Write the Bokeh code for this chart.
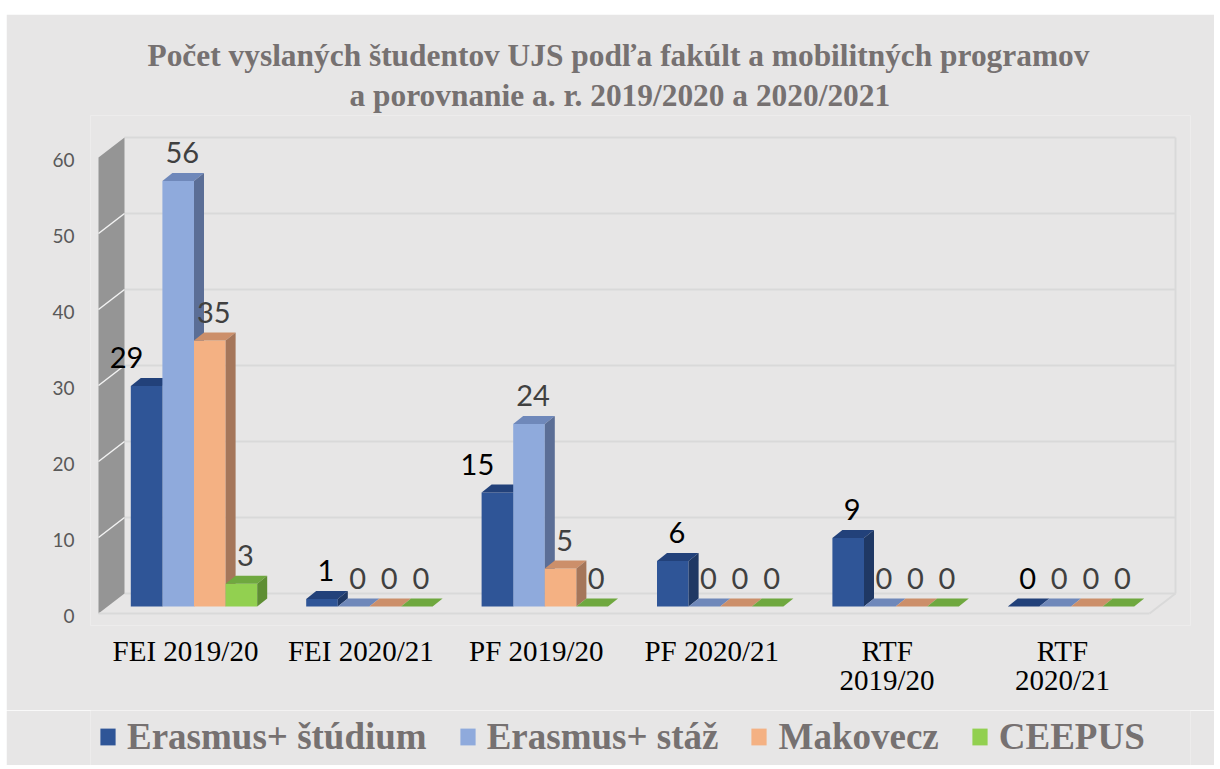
from bokeh.plotting import figure
from bokeh.layouts import column
from bokeh.models import (Range1d, LinearAxis, FixedTicker, Title, Legend,
                          LegendItem, ColumnDataSource)
from bokeh.core.properties import value
from bokeh.embed import file_html
from bokeh.resources import INLINE

# ---------------- data ----------------
tick_labels = ["FEI 2019/20", "FEI 2020/21", "PF 2019/20", "PF 2020/21",
               "RTF\n2019/20", "RTF\n2020/21"]
series_names = ["Erasmus+ štúdium", "Erasmus+ stáž", "Makovecz", "CEEPUS"]
erasmus_studium = [29, 1, 15, 6, 9, 0]
erasmus_staz = [56, 0, 24, 0, 0, 0]
makovecz = [35, 0, 5, 0, 0, 0]
ceepus = [3, 0, 0, 0, 0, 0]
y_ticks = [0, 10, 20, 30, 40, 50, 60]
title_line1 = "Počet vyslaných študentov UJS podľa fakúlt a mobilitných programov"
title_line2 = "a porovnanie a. r. 2019/2020 a 2020/2021"

series_values = [erasmus_studium, erasmus_staz, makovecz, ceepus]

# ---------------- style ----------------
BG = "#E7E6E6"
GRID = "#D9D9D9"
TITLE_C = "#767171"
front_c = ["#2F5597", "#8FAADC", "#F4B183", "#92D050"]
top_c = ["#22417A", "#6F88BA", "#CC8F6A", "#6FA83F"]
side_c = ["#1F3864", "#5B6E96", "#A5765A", "#5E8E33"]
label_c = ["#000000", "#404040", "#404040", "#404040"]

OX, OY = 6, 14          # page position of the chart box
W = 1208
H_MAIN = 696
H_LEG = 55

PXX = 175.4   # pixels per category
PXY = 7.6     # pixels per unit value


def px_x(v):
    return v / PXX


def px_y(v):
    return v / PXY


# geometry (page pixels converted to data units; 0-category front centre at x=185, value 0 at y=606)
bar_w = px_x(31.6)
shift = px_x(8.5)
bdx, bdy = px_x(10), px_y(8)
wall_dx, wall_dy = px_x(26), px_y(20)
floor_front = -px_y(7)
wall_left = px_x(98 - 185)
wall_right = px_x(1175 - 185)
label_gap = px_y(28.5)

FL, FR, FT, FB = 90, 1190, 115, 625   # frame edges on the page
x_start, x_end = px_x(FL - 185), px_x(FR - 185)
y_start, y_end = -px_y(FB - 606), px_y(606 - FT)

p = figure(width=W, height=H_MAIN, output_backend="svg", toolbar_location=None,
           x_range=Range1d(x_start, x_end), y_range=Range1d(y_start, y_end),
           x_axis_location=None, y_axis_location=None, title=None,
           min_border_left=FL - OX, min_border_right=W - (FR - OX),
           min_border_top=FT - OY, min_border_bottom=H_MAIN - (FB - OY),
           background_fill_color=BG, border_fill_color=BG, outline_line_color=None)
for g in list(p.xgrid) + list(p.ygrid):
    g.visible = False

# ---------------- walls ----------------
top_v = y_ticks[-1]
back_y = [t + floor_front + wall_dy for t in y_ticks]
p.segment(x0=[wall_left + wall_dx] * len(back_y), x1=[wall_right] * len(back_y),
          y0=back_y, y1=back_y, line_color=GRID, line_width=2)
p.segment(x0=[wall_right], x1=[wall_right], y0=[floor_front + wall_dy],
          y1=[top_v + floor_front + wall_dy], line_color=GRID, line_width=2)
p.patch(x=[wall_left, wall_left, wall_left + wall_dx, wall_left + wall_dx],
        y=[floor_front, top_v + floor_front, top_v + floor_front + wall_dy,
           floor_front + wall_dy],
        fill_color="#959595", line_color=None)
mid = y_ticks[1:-1]
p.segment(x0=[wall_left] * len(mid), x1=[wall_left + wall_dx] * len(mid),
          y0=[t + floor_front for t in mid],
          y1=[t + floor_front + wall_dy for t in mid],
          line_color="#F2F2F2", line_width=1.5)
p.segment(x0=[wall_left, wall_right - wall_dx], x1=[wall_right - wall_dx, wall_right],
          y0=[floor_front, floor_front], y1=[floor_front, floor_front + wall_dy],
          line_color=GRID, line_width=2)

# ---------------- bars ----------------
n_groups = len(tick_labels)
for j, vals in enumerate(series_values):
    lefts = [i + shift - 2 * bar_w + j * bar_w for i in range(n_groups)]
    rights = [l + bar_w for l in lefts]
    src = ColumnDataSource(dict(left=lefts, right=rights, top=vals,
                                bottom=[0] * n_groups))
    p.quad(left="left", right="right", bottom="bottom", top="top",
           source=src, fill_color=front_c[j], line_color=None)
    p.patches(xs=[[l, rr, rr + bdx, l + bdx] for l, rr in zip(lefts, rights)],
              ys=[[v, v, v + bdy, v + bdy] for v in vals],
              fill_color=top_c[j], line_color=None)
    p.patches(xs=[[rr, rr + bdx, rr + bdx, rr] for rr in rights],
              ys=[[0, bdy, v + bdy, v] for v in vals],
              fill_color=side_c[j], line_color=None)
    # label nudged left when the next bar in the group is taller
    nxt = series_values[j + 1] if j + 1 < len(series_values) else [0] * n_groups
    xs = [(l + rr) / 2 + (px_x(-20) if nv > v else px_x(4))
          for l, rr, v, nv in zip(lefts, rights, vals, nxt)]
    lsrc = ColumnDataSource(dict(x=xs, y=[v + label_gap for v in vals],
                                 t=[str(v) for v in vals]))
    p.text(x="x", y="y", text="t", source=lsrc, text_font=value("Lato"),
           text_font_size=value("29px"), text_color=label_c[j],
           text_align="center", text_baseline="middle")

# ---------------- axes ----------------
off = px_y(615 - 606)
p.extra_y_ranges = {"wall": Range1d(y_start + off, y_end + off)}
yax = LinearAxis(y_range_name="wall", ticker=FixedTicker(ticks=y_ticks),
                 axis_line_color=None, major_tick_line_color=None,
                 minor_tick_line_color=None, major_tick_out=0, major_tick_in=0,
                 major_label_standoff=16, major_label_text_font="Lato",
                 major_label_text_font_size="19px", major_label_text_color="#595959")
p.add_layout(yax, "left")

xax = LinearAxis(ticker=FixedTicker(ticks=list(range(n_groups))),
                 major_label_overrides={i: t for i, t in enumerate(tick_labels)},
                 axis_line_color=None, major_tick_line_color=None,
                 minor_tick_line_color=None, major_tick_out=0, major_tick_in=0,
                 major_label_standoff=9, major_label_text_font="Liberation Serif",
                 major_label_text_font_size="29px", major_label_text_color="#000000",
                 major_label_text_line_height=0.92)
p.add_layout(xax, "below")

# ---------------- title ----------------
p.add_layout(Title(text=title_line2, align="left", offset=259, standoff=5,
                   text_font="Liberation Serif", text_font_style="bold",
                   text_font_size="31.4px", text_color=TITLE_C), "above")
p.add_layout(Title(text=title_line1, align="left", offset=57, standoff=2,
                   text_font="Liberation Serif", text_font_style="bold",
                   text_font_size="31.4px", text_color=TITLE_C), "above")

# ---------------- legend strip (frame aligned with the chart frame) ----------------
leg = figure(width=W, height=H_LEG, output_backend="svg", toolbar_location=None,
             x_range=Range1d(0, 1), y_range=Range1d(0, 1), x_axis_location=None,
             y_axis_location=None, title=None, min_border=0,
             background_fill_color=BG, border_fill_color=BG, outline_line_color=None)
for g in list(leg.xgrid) + list(leg.ygrid):
    g.visible = False
items = []
for j, name in enumerate(series_names):
    # legend proxies lying outside the visible range of the strip
    r = leg.quad(left=[-3], right=[-2], top=[-2], bottom=[-3],
                 fill_color=front_c[j], line_color=None)
    items.append(LegendItem(label=name, renderers=[r]))
legend = Legend(items=items, orientation="horizontal", location=(98 - FL, 7),
                glyph_width=19, glyph_height=21, label_standoff=10, spacing=31,
                padding=0, margin=0, background_fill_alpha=0, border_line_alpha=0,
                label_text_font="Liberation Serif", label_text_font_style="bold",
                label_text_font_size="37px", label_text_color=TITLE_C)
leg.add_layout(legend)

layout = column(p, leg, spacing=0, margin=(OY, 0, 0, OX))
open("out.html", "w").write(file_html(layout, INLINE))
